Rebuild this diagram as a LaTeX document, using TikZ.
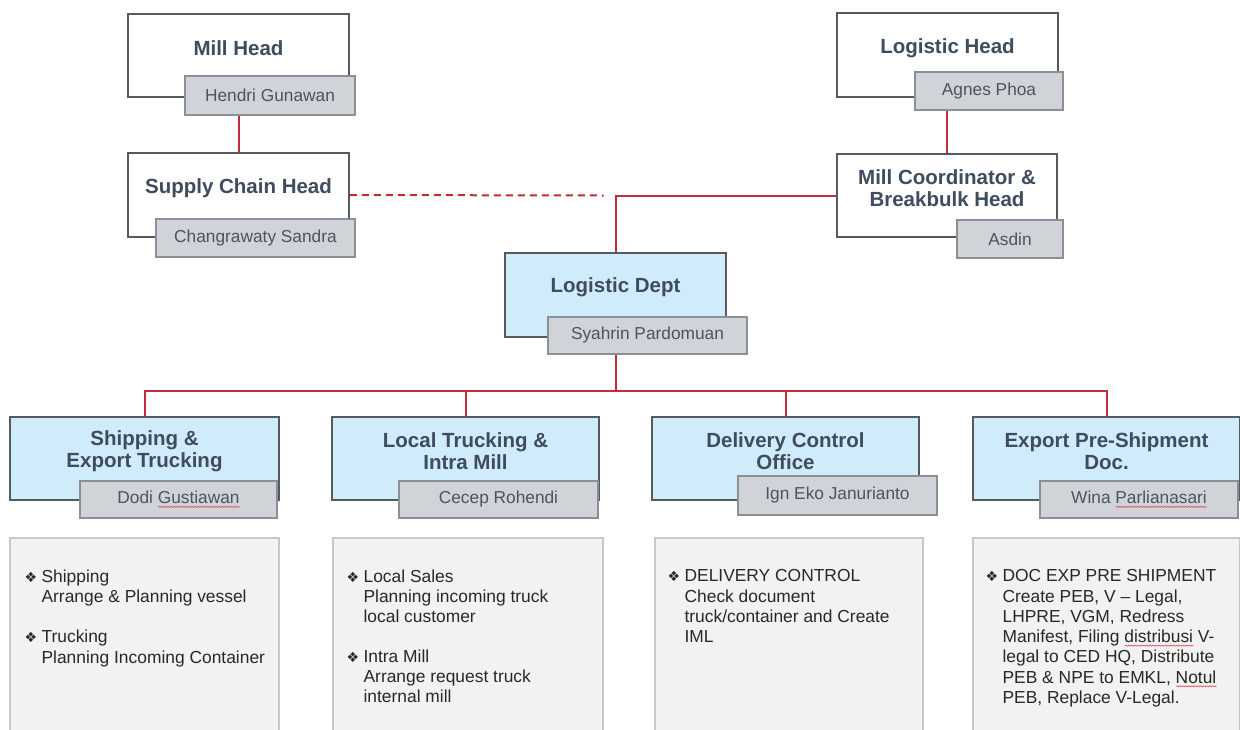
\documentclass[tikz,border=0pt]{standalone}
\usepackage{fontspec}
\setmainfont{Liberation Sans}
\newfontfamily\symfont{DejaVu Sans}
\usetikzlibrary{decorations.pathmorphing}
\definecolor{boxline}{RGB}{84,90,96}
\definecolor{deptblue}{RGB}{208,236,251}
\definecolor{namefill}{RGB}{208,211,215}
\definecolor{nameline}{RGB}{138,144,150}
\definecolor{titletext}{RGB}{62,76,94}
\definecolor{nametext}{RGB}{74,84,98}
\definecolor{linkred}{RGB}{196,44,58}
\definecolor{spellred}{RGB}{220,60,70}
\definecolor{descfill}{RGB}{242,242,242}
\definecolor{descline}{RGB}{200,200,200}
\definecolor{desctxt}{RGB}{40,40,40}
\newlength\sqw
\newcommand\squig[1]{\settowidth\sqw{#1}\rlap{\tikz[baseline=0pt]\draw[spellred,fill=none,line width=0.6pt,decorate,decoration={snake,amplitude=0.5pt,segment length=3pt}] (0pt,-3pt) -- (\sqw,-3pt);}#1}
\newcommand\bul{\makebox[17pt][l]{\symfont\fontsize{14}{12}\selectfont\raisebox{0pt}{❖}}}
\newcommand\ind{\hspace*{17pt}}
\begin{document}
\begin{tikzpicture}[x=1pt,y=-1pt,
  mainbox/.style={draw=boxline, line width=1.8pt, fill=white, rectangle, inner sep=0pt},
  bluebox/.style={mainbox, fill=deptblue},
  namebox/.style={draw=nameline, line width=1.3pt, fill=namefill, rectangle, inner sep=0pt, font=\fontsize{17.3}{19}\selectfont, text=nametext},
  titletxt/.style={font=\bfseries\fontsize{20.5}{22}\selectfont, text=titletext, align=center, inner sep=0pt},
  descbox/.style={draw=descline, line width=1.2pt, fill=descfill, rectangle, inner sep=0pt},
  desctext/.style={font=\fontsize{17.4}{20.3}\selectfont, text=desctxt, align=left, inner sep=0pt, anchor=north west},
  link/.style={draw=linkred, line width=2pt}
]
\useasboundingbox (0,0) rectangle (1240,729);
\clip (0,0) rectangle (1240,729);
\fill[white] (0,0) rectangle (1240,729);

% junction coordinates
\coordinate (dj) at (615.5,195.5);
\coordinate (bus) at (615.5,391);

% main boxes
\node[mainbox, minimum width=221pt, minimum height=83pt] (millhead) at (238.5,55.5) {};
\node[mainbox, minimum width=221pt, minimum height=84pt] (supply) at (238.5,195) {};
\node[mainbox, minimum width=221pt, minimum height=84pt] (loghead) at (947.5,55) {};
\node[mainbox, minimum width=220pt, minimum height=83pt] (millco) at (947,195.5) {};
\node[bluebox, minimum width=221pt, minimum height=84pt] (logdept) at (615.5,295) {};
\node[bluebox, minimum width=269pt, minimum height=83pt] (b1) at (144.5,458.5) {};
\node[bluebox, minimum width=267pt, minimum height=83pt] (b2) at (465.5,458.5) {};
\node[bluebox, minimum width=267pt, minimum height=83pt] (b3) at (785.5,458.5) {};
\node[bluebox, minimum width=267pt, minimum height=83pt] (b4) at (1106.5,458.5) {};

% titles
\node[titletxt] (tmill) at (238.5,48) {Mill Head};
\node[titletxt] (tsupply) at (238.5,188) {Supply Chain Head};
\node[titletxt] (tloghead) at (947.5,48) {Logistic Head};
\node[titletxt] (tmillco) at (947,188.5) {Mill Coordinator \&\\Breakbulk Head};
\node[titletxt] (tlogdept) at (615.5,287) {Logistic Dept};
\node[titletxt] (tb1) at (144.5,451) {Shipping \&\\Export Trucking};
\node[titletxt] (tb2) at (465.5,451) {Local Trucking \&\\Intra Mill};
\node[titletxt] (tb3) at (785.5,451) {Delivery Control\\Office};
\node[titletxt] (tb4) at (1106.5,451) {Export Pre-Shipment\\Doc.};

% name boxes
\node[namebox, minimum width=170pt, minimum height=39pt] (hendri) at (270,95.5) {Hendri Gunawan};
\node[namebox, minimum width=199pt, minimum height=38pt] (chang) at (255.5,238) {Changrawaty Sandra};
\node[namebox, minimum width=148pt, minimum height=38pt] (agnes) at (989,91) {Agnes Phoa};
\node[namebox, minimum width=106pt, minimum height=38pt] (asdin) at (1010,239) {Asdin};
\node[namebox, minimum width=199pt, minimum height=37pt] (syahrin) at (647.5,335.5) {Syahrin Pardomuan};
\node[namebox, minimum width=197pt, minimum height=37pt] (dodi) at (178.5,499.5) {Dodi \squig{Gustiawan}};
\node[namebox, minimum width=199pt, minimum height=37pt] (cecep) at (498.5,499.5) {Cecep Rohendi};
\node[namebox, minimum width=199pt, minimum height=39pt] (ign) at (837.5,495.5) {Ign Eko Janurianto};
\node[namebox, minimum width=198pt, minimum height=37pt] (wina) at (1139,499.5) {Wina \squig{Parlianasari}};

% connector lines (drawn between named nodes)
\draw[link, dash pattern=on 7pt off 5pt] (supply.east) -- ([xshift=-12pt]dj);
\draw[link] (millco.west) -- (dj) -- (logdept.north);
\draw[link] (supply.north) -- (supply.north |- hendri.south);
\draw[link] (millco.north) -- (millco.north |- agnes.south);
\draw[link] (logdept.south |- syahrin.south) -- (bus);
\draw[link] (b1.north) |- (bus) -| (b4.north);
\draw[link] (b2.north) -- (b2.north |- bus);
\draw[link] (b3.north) -- (b3.north |- bus);

% description boxes
\node[descbox, minimum width=269pt, minimum height=222pt] (d1) at (144.5,649) {};
\node[descbox, minimum width=270pt, minimum height=222pt] (d2) at (468,649) {};
\node[descbox, minimum width=268pt, minimum height=222pt] (d3) at (789,649) {};
\node[descbox, minimum width=267pt, minimum height=222pt] (d4) at (1106.5,649) {};

\node[desctext] (t1) at ([shift={(15,32)}]d1.north west) {\bul Shipping\\
\ind Arrange \& Planning vessel\\[20pt]
\bul Trucking\\
\ind Planning Incoming Container};
\node[desctext] (t2) at ([shift={(14,32)}]d2.north west) {\bul Local Sales\\
\ind Planning incoming truck\\
\ind local customer\\[19pt]
\bul Intra Mill\\
\ind Arrange request truck\\
\ind internal mill};
\node[desctext] (t3) at ([shift={(13,32)}]d3.north west) {\bul DELIVERY CONTROL\\
\ind Check document\\
\ind truck/container and Create\\
\ind IML};
\node[desctext] (t4) at ([shift={(13,32)}]d4.north west) {\bul DOC EXP PRE SHIPMENT\\
\ind Create PEB, V – Legal,\\
\ind LHPRE, VGM, Redress\\
\ind Manifest, Filing \squig{distribusi} V-\\
\ind legal to CED HQ, Distribute\\
\ind PEB \& NPE to EMKL, \squig{Notul}\\
\ind PEB, Replace V-Legal.};
\end{tikzpicture}
\end{document}
